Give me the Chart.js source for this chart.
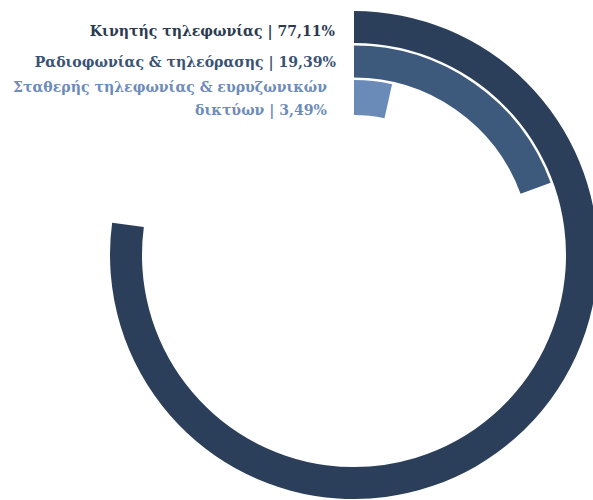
<!DOCTYPE html>
<html>
<head>
<meta charset="utf-8">
<script src="https://cdn.jsdelivr.net/npm/chart.js@4.4.0/dist/chart.umd.min.js"></script>
<style>
  html, body { margin: 0; padding: 0; background: #fff; overflow: hidden; width: 593px; height: 500px; }
  #wrap { position: absolute; left: 110px; top: 11px; width: 488px; height: 488px; }
  .lbl { position: absolute; font-family: "DejaVu Serif", serif; font-weight: bold; font-size: 15px; text-align: right; white-space: nowrap; line-height: 23px; }
</style>
</head>
<body>
<div id="labels"></div>
<div id="wrap"><canvas id="chart"></canvas></div>
<script>
// κατηγορίες και ποσοστά
const categories = ['Κινητής τηλεφωνίας', 'Ραδιοφωνίας & τηλεόρασης', 'Σταθερής τηλεφωνίας & ευρυζωνικών δικτύων'];
const values = [77.11, 19.39, 3.49];
const valueLabels = ['77,11%', '19,39%', '3,49%'];
const colors = ['#2c3f5a', '#3d5a7d', '#6a8bb8'];
const textColors = ['#2b3a50', '#3a5373', '#6d8cba'];

// μέγεθος γραμματοσειράς ώστε η πρώτη ετικέτα να πιάνει ~246px
const ctx2 = document.createElement('canvas').getContext('2d');
ctx2.font = 'bold 100px "DejaVu Serif"';
const w100 = ctx2.measureText(categories[0] + ' | ' + valueLabels[0]).width;
const fontSize = Math.round(246 / w100 * 1000) / 10;

// ετικέτες αριστερά από την αρχή κάθε δακτυλίου
const labelBox = document.getElementById('labels');
const labelPos = [
  { right: 258, base: 36, lines: [categories[0] + ' | ' + valueLabels[0]] },
  { right: 257, base: 67, lines: [categories[1] + ' | ' + valueLabels[1]] },
  { right: 266, base: 92, lines: ['Σταθερής τηλεφωνίας & ευρυζωνικών', 'δικτύων | ' + valueLabels[2]] }
];
const lineH = 23;
const baseOff = (lineH - fontSize * 1.164) / 2 + fontSize * 0.928;
labelPos.forEach((p, i) => {
  const d = document.createElement('div');
  d.className = 'lbl';
  d.style.fontSize = fontSize + 'px';
  d.style.right = p.right + 'px';
  d.style.top = (p.base - baseOff) + 'px';
  d.style.color = textColors[i];
  d.innerHTML = p.lines.join('<br>');
  labelBox.appendChild(d);
});

// δακτύλιοι με διάκενα ανάμεσα
const ringWeights = [32, 32, 35];
const gapWeight = 2.5;
const datasets = [];
values.forEach((v, i) => {
  if (i > 0) {
    datasets.push({ data: [100], backgroundColor: ['rgba(0,0,0,0)'], borderWidth: 0, weight: gapWeight });
  }
  datasets.push({
    data: [v, 100 - v],
    backgroundColor: [colors[i], 'rgba(0,0,0,0)'],
    borderWidth: 0,
    weight: ringWeights[i]
  });
});

new Chart(document.getElementById('chart'), {
  type: 'doughnut',
  data: { labels: ['value', 'rest'], datasets: datasets },
  options: {
    responsive: true,
    maintainAspectRatio: false,
    animation: false,
    cutout: '57.4%',
    layout: { padding: 0 },
    events: [],
    plugins: { legend: { display: false }, tooltip: { enabled: false } }
  }
});
</script>
</body>
</html>
